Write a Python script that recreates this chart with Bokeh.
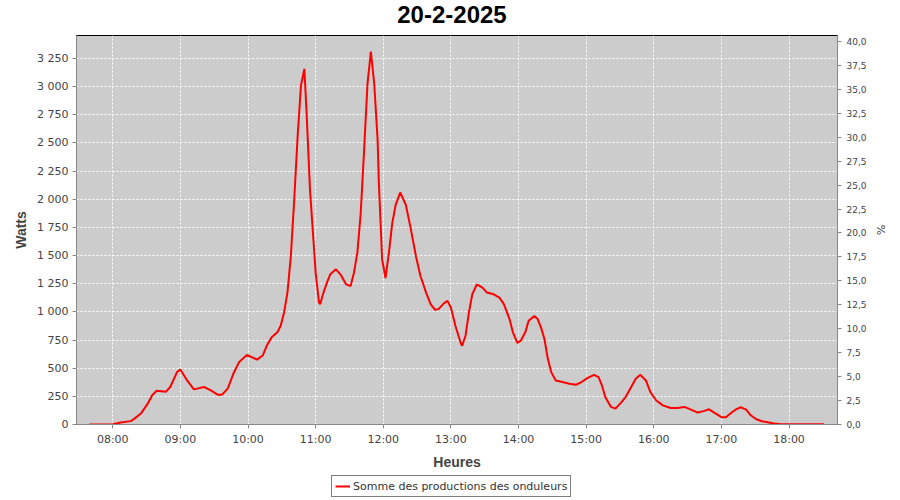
import pandas as pd
from bokeh.plotting import figure
from bokeh.layouts import column
from bokeh.models import (Range1d, LinearAxis, FixedTicker, SingleIntervalTicker, Label,
                          CustomJSTickFormatter, DatetimeTickFormatter, Legend, LegendItem)
from bokeh.embed import file_html
from bokeh.resources import INLINE

DAY = "2025-02-20"
title_text = "20-2-2025"
series_label = "Somme des productions des onduleurs"

times = ["07:39","08:00","08:07","08:16","08:19","08:25","08:31","08:35","08:39","08:47",
         "08:51","08:57","09:00","09:06","09:12","09:21","09:27","09:33","09:37","09:42",
         "09:47","09:52","09:59","10:08","10:13","10:17","10:21","10:26","10:29","10:32",
         "10:35","10:38","10:41","10:44","10:47","10:50","10:52","10:55","10:58","11:00",
         "11:03","11:04","11:07","11:10","11:13","11:18","11:22","11:27","11:31","11:34",
         "11:37","11:40","11:43","11:46","11:49","11:52","11:55","11:56","11:58","11:59",
         "12:02","12:05","12:08","12:11","12:15","12:20","12:24","12:29","12:33","12:38",
         "12:42","12:46","12:49","12:54","12:57","13:00","13:04","13:09","13:10","13:13",
         "13:16","13:19","13:23","13:28","13:32","13:38","13:43","13:47","13:52","13:55",
         "13:59","14:02","14:06","14:09","14:14","14:17","14:20","14:23","14:26","14:29",
         "14:33","14:39","14:45","14:51","14:55","15:01","15:07","15:11","15:14","15:17",
         "15:22","15:26","15:31","15:35","15:40","15:44","15:48","15:53","15:57","16:02",
         "16:08","16:15","16:21","16:27","16:31","16:39","16:45","16:49","16:54","17:00",
         "17:04","17:08","17:13","17:17","17:22","17:26","17:31","17:36","17:42","17:47",
         "17:53","18:31"]

watts = [0, 3, 18, 30, 50, 97, 185, 260, 300, 290,
         333, 465, 488, 391, 312, 333, 303, 265, 265, 318,
         450, 553, 618, 576, 612, 706, 774, 818, 876, 995,
         1171, 1494, 1995, 2553, 3010, 3157, 2760, 2083, 1642, 1348,
         1083, 1068, 1171, 1259, 1333, 1377, 1333, 1244, 1230, 1348,
         1524, 1877, 2436, 3024, 3310, 3024, 2524, 2171, 1700, 1465,
         1300, 1524, 1789, 1950, 2059, 1951, 1759, 1494, 1318, 1171,
         1068, 1018, 1024, 1077, 1097, 1039, 876, 715, 700, 788,
         995, 1156, 1244, 1215, 1171, 1156, 1127, 1068, 936, 818,
         724, 744, 818, 921, 962, 936, 860, 759, 583, 465,
         391, 377, 362, 353, 371, 412, 441, 421, 347, 244,
         156, 141, 194, 244, 333, 406, 441, 391, 288, 215,
         170, 147, 147, 156, 141, 106, 121, 135, 103, 65,
         65, 97, 135, 153, 132, 82, 47, 29, 18, 9,
         3, 2]

hour_ticks = ["08:00","09:00","10:00","11:00","12:00","13:00","14:00","15:00","16:00","17:00","18:00"]
x_start, x_end = "07:27:50", "18:43:00"
watts_max = 3453
pct_max = 40.62

def ts(hm):
    return pd.Timestamp(f"{DAY} {hm}")

def ms(hm):
    return (ts(hm) - pd.Timestamp("1970-01-01")) / pd.Timedelta(milliseconds=1)

x = [ts(t) for t in times]

# ---- title strip ----
tf = figure(width=900, height=35, output_backend="svg", toolbar_location=None,
            x_axis_location=None, y_axis_location=None, title=None,
            x_range=Range1d(0, 1), y_range=Range1d(0, 35), min_border=0)
tf.outline_line_color = None
tf.grid.visible = False
tf.background_fill_color = "white"
tf.add_layout(Label(x=0.4934, y=21, text=title_text, text_align="center",
                    text_baseline="alphabetic", text_font="Liberation Sans",
                    text_font_style="bold", text_font_size="24px", text_color="black"))

# ---- main chart ----
p = figure(width=900, height=437, x_axis_type="datetime", output_backend="svg",
           toolbar_location=None, title=None,
           x_range=Range1d(ts(x_start), ts(x_end)), y_range=Range1d(0, watts_max),
           min_border_left=76, min_border_right=63, min_border_top=0, min_border_bottom=46)

p.background_fill_color = "#CCCCCC"
p.border_fill_color = "white"
p.outline_line_color = "black"
p.outline_line_width = 1

p.extra_y_ranges = {"pct": Range1d(0, pct_max)}

tick_color = "#444444"
axis_color = "#888888"

xa = p.xaxis[0]
xa.ticker = FixedTicker(ticks=[ms(h) for h in hour_ticks])
xa.formatter = DatetimeTickFormatter(hours="%H:%M", hourmin="%H:%M", minutes="%H:%M",
                                     days="%H:%M", minsec="%H:%M")
xa.axis_label = "Heures"

ya = p.yaxis[0]
ya.ticker = SingleIntervalTicker(interval=250)
ya.formatter = CustomJSTickFormatter(code="return tick.toFixed(0).replace(/\\B(?=(\\d{3})+(?!\\d))/g, ' ');")
ya.axis_label = "Watts"

ra = LinearAxis(y_range_name="pct", ticker=SingleIntervalTicker(interval=2.5),
                formatter=CustomJSTickFormatter(code="return tick.toFixed(1).replace('.', ',');"),
                axis_label="%")
p.add_layout(ra, "right")

for ax in (xa, ya, ra):
    ax.axis_line_color = axis_color
    ax.major_tick_line_color = axis_color
    ax.minor_tick_line_color = None
    ax.major_tick_in = 0
    ax.major_tick_out = 4
    ax.major_label_standoff = 4
    ax.major_label_text_font = "DejaVu Sans"
    ax.major_label_text_font_size = "11px"
    ax.major_label_text_color = tick_color
    ax.axis_label_text_font = "Liberation Sans"
    ax.axis_label_text_font_style = "bold"
    ax.axis_label_text_font_size = "14px"
    ax.axis_label_text_color = tick_color
    ax.axis_label_standoff = 5

ra.major_label_text_font_size = "9px"
ra.major_label_standoff = 5
ra.axis_label_text_font = "DejaVu Sans"
ra.axis_label_text_font_style = "normal"
ra.axis_label_text_font_size = "11px"
ra.axis_label_standoff = 4

for g in (p.xgrid[0], p.ygrid[0]):
    g.grid_line_color = "white"
    g.grid_line_dash = "2 2"
    g.grid_line_width = 1

r = p.line(x, watts, line_color="#FF0000", line_width=2)

# ---- legend strip below the chart (its sample line lies outside the visible range) ----
lf = figure(width=900, height=28, output_backend="svg", toolbar_location=None,
            x_axis_location=None, y_axis_location=None, title=None,
            x_range=Range1d(0, 1), y_range=Range1d(0, 1),
            min_border=0)
lf.outline_line_color = None
lf.grid.visible = False
lf.background_fill_color = "white"
lr = lf.line([-2, -1], [-2, -1], line_color="#FF0000", line_width=2)

legend = Legend(items=[LegendItem(label=series_label, renderers=[lr])],
                location=(255, 3), orientation="horizontal")
legend.border_line_color = "black"
legend.border_line_width = 1
legend.background_fill_color = "white"
legend.background_fill_alpha = 1
legend.label_text_font = "DejaVu Sans"
legend.label_text_font_size = "11px"
legend.label_text_color = "#333333"
legend.glyph_width = 15
legend.glyph_height = 14
legend.label_height = 14
legend.label_standoff = 3
legend.padding = 3
legend.margin = 0
legend.spacing = 0
lf.add_layout(legend, "center")

layout = column(tf, p, lf, spacing=0)
open("out.html", "w").write(file_html(layout, INLINE))
